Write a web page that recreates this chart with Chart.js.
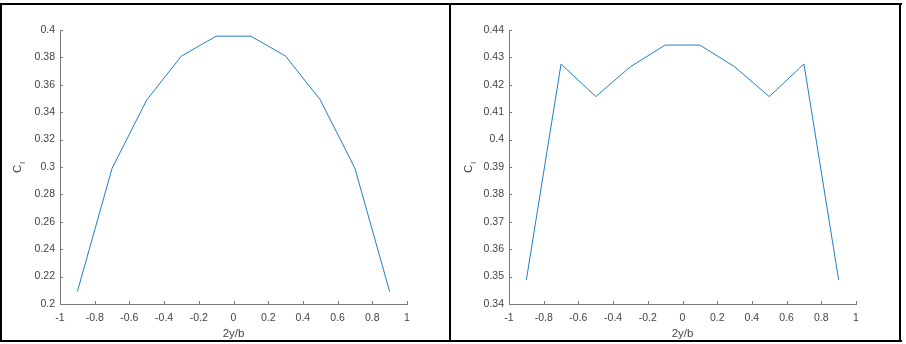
<!DOCTYPE html>
<html>
<head>
<meta charset="utf-8">
<script src="https://cdn.jsdelivr.net/npm/chart.js@4/dist/chart.umd.min.js"></script>
<style>
  html, body { margin: 0; padding: 0; background: #ffffff; }
  body { width: 906px; height: 344px; position: relative; overflow: hidden; }
  canvas { position: absolute; top: 0; }
  .frame { position: absolute; background: #000; }
</style>
</head>
<body>
<canvas id="c1" width="451" height="344" style="left:0px"></canvas>
<canvas id="c2" width="451" height="344" style="left:451px"></canvas>
<div class="frame" style="left:0;top:3px;width:902px;height:2px"></div>
<div class="frame" style="left:0;top:340px;width:902px;height:2px"></div>
<div class="frame" style="left:0;top:3px;width:2px;height:339px"></div>
<div class="frame" style="left:449px;top:3px;width:2px;height:339px"></div>
<div class="frame" style="left:899px;top:3px;width:2px;height:339px"></div>
<script>
// ---- data ----
const spanPositions = [-0.9, -0.7, -0.5, -0.3, -0.1, 0.1, 0.3, 0.5, 0.7, 0.9];
const clLeft  = [0.209, 0.299, 0.349, 0.381, 0.3955, 0.3955, 0.381, 0.349, 0.299, 0.209];
const clRight = [0.3488, 0.4276, 0.4157, 0.4266, 0.4345, 0.4345, 0.4266, 0.4157, 0.4276, 0.3488];
const xTickValues = [-1, -0.8, -0.6, -0.4, -0.2, 0, 0.2, 0.4, 0.6, 0.8, 1];
const yTicksLeft  = [0.2, 0.22, 0.24, 0.26, 0.28, 0.3, 0.32, 0.34, 0.36, 0.38, 0.4];
const yTicksRight = [0.34, 0.35, 0.36, 0.37, 0.38, 0.39, 0.4, 0.41, 0.42, 0.43, 0.44];
const xTitle = '2y/b';
const yTitleMain = 'C';
const yTitleSub = 'l';

const AXIS = '#7a7a7a';
const TEXT = '#444444';
const LINE = '#1f7fc4';
const FONT = '"Liberation Sans", Arial, sans-serif';

const fmt = v => String(Number(v.toFixed(4)));

const matlabAxes = {
  id: 'matlabAxes',
  afterDraw(chart) {
    const { ctx, chartArea: a, scales: { x, y } } = chart;
    ctx.save();
    ctx.strokeStyle = AXIS;
    ctx.lineWidth = 1;
    ctx.beginPath();
    x.ticks.forEach(t => {
      const p = Math.round(x.getPixelForValue(t.value)) + 0.5;
      ctx.moveTo(p, a.bottom); ctx.lineTo(p, a.bottom - 3);
    });
    y.ticks.forEach(t => {
      const p = Math.round(y.getPixelForValue(t.value)) + 0.5;
      ctx.moveTo(a.left, p); ctx.lineTo(a.left + 3, p);
    });
    ctx.stroke();
    // x title
    ctx.fillStyle = TEXT;
    ctx.font = '11.5px ' + FONT;
    ctx.textAlign = 'center';
    ctx.textBaseline = 'alphabetic';
    ctx.fillText(xTitle, (a.left + a.right) / 2, 337);
    // y title with subscript
    const cy = (a.top + a.bottom) / 2;
    ctx.translate(21, cy + 6);
    ctx.rotate(-Math.PI / 2);
    ctx.textAlign = 'left';
    ctx.font = '11.5px ' + FONT;
    ctx.fillText(yTitleMain, 0, 0);
    const w = ctx.measureText(yTitleMain).width;
    ctx.font = '8px ' + FONT;
    ctx.fillText(yTitleSub, w + 1, 4);
    ctx.restore();
  }
};

function makeChart(id, values, yTicks, yWidth, padRight) {
  const ctx = document.getElementById(id);
  return new Chart(ctx, {
    type: 'line',
    data: {
      datasets: [{
        data: spanPositions.map((s, i) => ({ x: s, y: values[i] })),
        borderColor: LINE,
        borderWidth: 1,
        pointRadius: 0,
        tension: 0,
        fill: false
      }]
    },
    options: {
      responsive: false,
      animation: false,
      devicePixelRatio: 1,
      layout: { padding: { left: 0, top: 30, right: padRight, bottom: 0 } },
      plugins: { legend: { display: false }, tooltip: { enabled: false } },
      scales: {
        x: {
          type: 'linear',
          min: xTickValues[0],
          max: xTickValues[xTickValues.length - 1],
          afterBuildTicks: s => { s.ticks = xTickValues.map(v => ({ value: v })); },
          afterFit: s => { s.height = 40; },
          grid: { display: true, drawOnChartArea: false, drawTicks: false },
          border: { display: true, color: AXIS, width: 1 },
          ticks: {
            autoSkip: false, maxRotation: 0, padding: 8,
            color: TEXT, font: { family: FONT, size: 10.5 },
            callback: v => fmt(v)
          }
        },
        y: {
          type: 'linear',
          min: yTicks[0],
          max: yTicks[yTicks.length - 1],
          afterBuildTicks: s => { s.ticks = yTicks.map(v => ({ value: v })); },
          afterFit: s => { s.width = yWidth; },
          grid: { display: true, drawOnChartArea: false, drawTicks: false },
          border: { display: true, color: AXIS, width: 1 },
          ticks: {
            autoSkip: false, padding: 5,
            color: TEXT, font: { family: FONT, size: 10.5 },
            callback: v => fmt(v)
          }
        }
      }
    },
    plugins: [matlabAxes]
  });
}

makeChart('c1', clLeft, yTicksLeft, 60, 44);
makeChart('c2', clRight, yTicksRight, 58, 46);
</script>
</body>
</html>
